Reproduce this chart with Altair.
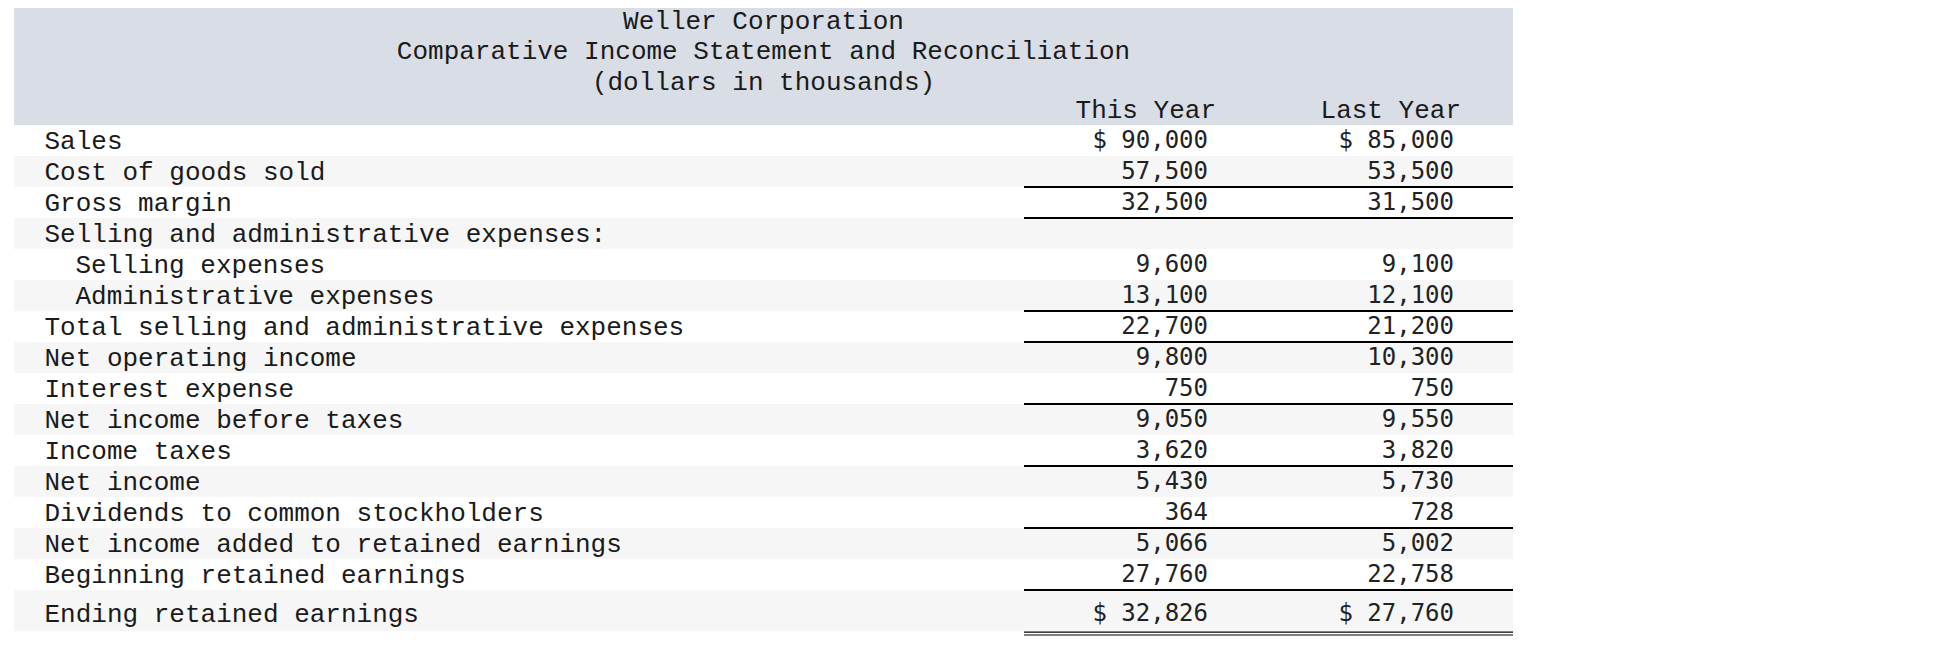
import altair as alt
import pandas as pd

# ---------------- data ----------------
company = "Weller Corporation"
subtitle = "Comparative Income Statement and Reconciliation"
units_note = "(dollars in thousands)"
col_headers = ["This Year", "Last Year"]

labels = [
    "Sales",
    "Cost of goods sold",
    "Gross margin",
    "Selling and administrative expenses:",
    "Selling expenses",
    "Administrative expenses",
    "Total selling and administrative expenses",
    "Net operating income",
    "Interest expense",
    "Net income before taxes",
    "Income taxes",
    "Net income",
    "Dividends to common stockholders",
    "Net income added to retained earnings",
    "Beginning retained earnings",
    "Ending retained earnings",
]
this_year = [90000, 57500, 32500, None, 9600, 13100, 22700, 9800, 750,
             9050, 3620, 5430, 364, 5066, 27760, 32826]
last_year = [85000, 53500, 31500, None, 9100, 12100, 21200, 10300, 750,
             9550, 3820, 5730, 728, 5002, 22758, 27760]
indented_rows = ["Selling expenses", "Administrative expenses"]
dollar_rows = ["Sales", "Ending retained earnings"]
underlined_rows = ["Cost of goods sold", "Gross margin", "Administrative expenses",
                   "Total selling and administrative expenses", "Interest expense",
                   "Income taxes", "Dividends to common stockholders",
                   "Beginning retained earnings"]
double_underlined_rows = ["Ending retained earnings"]

# ---------------- layout ----------------
W, H = 1922, 650
TOP = 117.0          # pixel y of first body row top
ROW_H = 31.0
LAST_ROW_H = 41.0
TABLE_L, TABLE_R = 6, 1505
LABEL_X, INDENT = 36.5, 31
NUM_RIGHT = [1200, 1446]
HDR_RIGHT = [1208, 1453]
LINE_L = 1016
FS = 26
NUM_FS = 24
LABEL_FONT = "Courier New"
NUM_FONT = "DejaVu Sans Mono"
HEADER_BG = "#d9dde5"
STRIPE_BG = "#f6f6f6"
TEXT = "#1a1a1a"

n = len(labels)
last_units = LAST_ROW_H / ROW_H

rows = []
for i, lab in enumerate(labels):
    top = float(i)
    bot = top + (last_units if i == n - 1 else 1.0)
    center = top + (0.5 if i < n - 1 else 0.59 * last_units)
    rows.append(dict(label=lab, i=i, top=top, bot=bot, center=center,
                     lx=LABEL_X + (INDENT if lab in indented_rows else 0)))
body = pd.DataFrame(rows)

def fmt(v, lab):
    if v is None:
        return ""
    return ("$ " if lab in dollar_rows else "") + f"{int(v):,}"

nums = []
for i, lab in enumerate(labels):
    for c, vals in enumerate([this_year, last_year]):
        nums.append(dict(text=fmt(vals[i], lab), x=NUM_RIGHT[c],
                         center=body.loc[i, "center"]))
nums = pd.DataFrame(nums)

stripes = body[body["i"] % 2 == 1].assign(x=TABLE_L, x2=TABLE_R)
singles = body[body["label"].isin(underlined_rows)].assign(x=LINE_L, x2=TABLE_R)
dbl = body[body["label"].isin(double_underlined_rows)]
double_lines = pd.DataFrame(
    [dict(x=LINE_L, x2=TABLE_R, y=b + off / ROW_H) for b in dbl["bot"] for off in (1.2, 4.0)]
)

header_band = pd.DataFrame([dict(x=TABLE_L, x2=TABLE_R, y=-TOP / ROW_H, y2=0.0)])
title_df = pd.DataFrame([
    dict(text=company, x=(TABLE_L + TABLE_R) / 2, y=(13 - TOP) / ROW_H),
    dict(text=subtitle, x=(TABLE_L + TABLE_R) / 2, y=(42.7 - TOP) / ROW_H),
    dict(text=units_note, x=(TABLE_L + TABLE_R) / 2, y=(73.6 - TOP) / ROW_H),
])
colhdr_df = pd.DataFrame([
    dict(text=col_headers[c], x=HDR_RIGHT[c], y=(102 - TOP) / ROW_H) for c in range(2)
])

xs = alt.Scale(domain=[0, W], range=[0, W], nice=False, zero=False)
ys = alt.Scale(domain=[0, 1], range=[TOP, TOP + ROW_H], nice=False, zero=False)

def X(f):
    return alt.X(f, type="quantitative", scale=xs, axis=None)

def Y(f):
    return alt.Y(f, type="quantitative", scale=ys, axis=None)

band = alt.Chart(header_band).mark_rect(color=HEADER_BG).encode(
    x=X("x"), x2="x2", y=Y("y"), y2="y2")
stripe = alt.Chart(stripes).mark_rect(color=STRIPE_BG).encode(
    x=X("x"), x2="x2", y=Y("top"), y2="bot")
titles = alt.Chart(title_df).mark_text(font=LABEL_FONT, fontSize=FS, color=TEXT,
                                       align="center", baseline="middle").encode(
    x=X("x"), y=Y("y"), text="text")
colhdr = alt.Chart(colhdr_df).mark_text(font=LABEL_FONT, fontSize=FS, color=TEXT,
                                        align="right", baseline="middle").encode(
    x=X("x"), y=Y("y"), text="text")
lab_text = alt.Chart(body).mark_text(font=LABEL_FONT, fontSize=FS, color=TEXT,
                                     align="left", baseline="middle").encode(
    x=X("lx"), y=Y("center"), text="label")
num_text = alt.Chart(nums).mark_text(font=NUM_FONT, fontSize=NUM_FS, color="#222222",
                                     align="right", baseline="middle").encode(
    x=X("x"), y=Y("center"), text="text")
ul = alt.Chart(singles).mark_rule(color="#000000", strokeWidth=2).encode(
    x=X("x"), x2="x2", y=Y("bot"))
dl = alt.Chart(double_lines).mark_rule(color="#000000", strokeWidth=1.2).encode(
    x=X("x"), x2="x2", y=Y("y"))

chart = alt.layer(band, stripe, titles, colhdr, lab_text, num_text, ul, dl).properties(
    width=W, height=H, padding=0, autosize=alt.AutoSizeParams(type="none")
).configure_view(stroke=None)

chart.save("out.html", embed_options={"renderer": "svg", "actions": False})
